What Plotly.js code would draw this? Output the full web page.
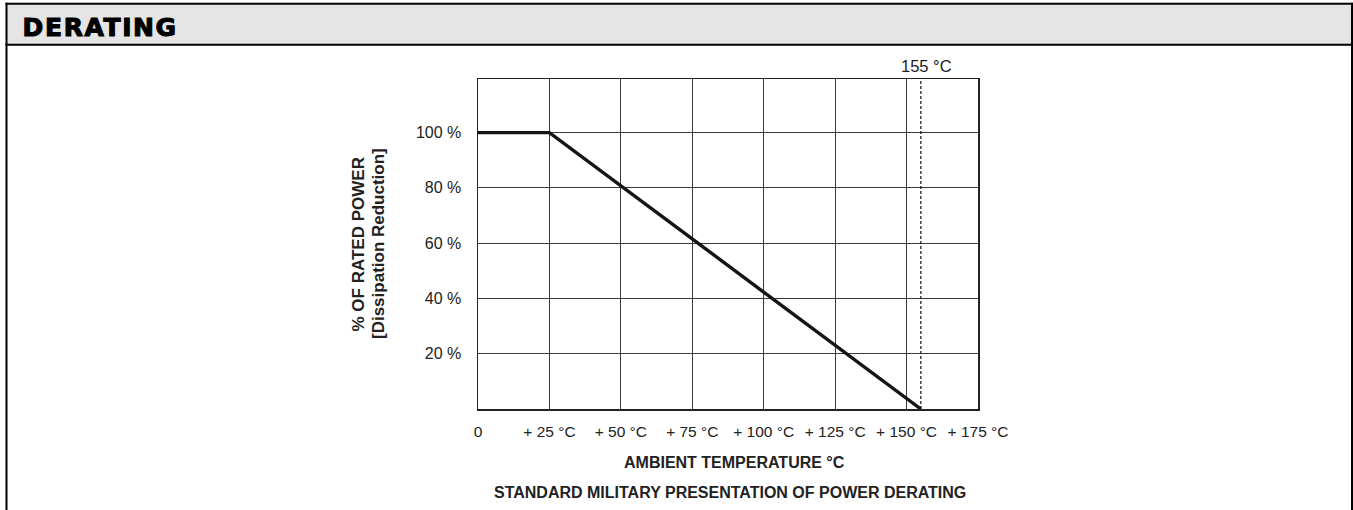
<!DOCTYPE html>
<html>
<head>
<meta charset="utf-8">
<script src="https://cdn.plot.ly/plotly-3.0.1.min.js"></script>
<style>
  html, body { margin: 0; padding: 0; background: #fff; }
  #chart { width: 1353px; height: 510px; }
  g.annotation[data-index="0"] text { letter-spacing: 1.6px; stroke: #000; stroke-width: 1.1px; }
</style>
</head>
<body>
<div id="chart"></div>
<script>
// ---- data ----
const tempC = [0, 25, 155];
const ratedPowerPct = [100, 100, 0];
const xTickVals = [0, 25, 50, 75, 100, 125, 150, 175];
const xTickText = ['0', '+ 25 °C', '+ 50 °C', '+ 75 °C', '+ 100 °C', '+ 125 °C', '+ 150 °C', '+ 175 °C'];
const yTickVals = [20, 40, 60, 80, 100];
const yTickText = ['20 %', '40 %', '60 %', '80 %', '100 %'];
const maxTemp = 155;
const maxTempLabel = '155 °C';
const headerText = 'DERATING';
const xTitle = 'AMBIENT TEMPERATURE °C';
const captionText = 'STANDARD MILITARY PRESENTATION OF POWER DERATING';
const yTitleLine1 = '% OF RATED POWER';
const yTitleLine2 = '[Dissipation Reduction]';

// ---- layout helpers (pixel -> paper) ----
const W = 1353, H = 510;
const M = { l: 478, r: 375, t: 79, b: 101 };
const PW = W - M.l - M.r, PH = H - M.t - M.b;
const px = x => (x - M.l) / PW;
const py = y => (H - M.b - y) / PH;

const FONT = '"Liberation Sans", Arial, Helvetica, sans-serif';

const trace = {
  x: tempC, y: ratedPowerPct,
  type: 'scatter', mode: 'lines',
  line: { color: '#151515', width: 3.4 },
  hoverinfo: 'skip', showlegend: false, cliponaxis: false
};

const layout = {
  width: W, height: H,
  margin: M,
  paper_bgcolor: '#ffffff', plot_bgcolor: '#ffffff',
  showlegend: false,
  font: { family: FONT, color: '#222', size: 16 },
  xaxis: {
    range: [0, 175], tickvals: xTickVals, ticktext: xTickText,
    showgrid: true, gridcolor: '#3a3a3a', gridwidth: 1,
    zeroline: false, showline: true, linecolor: '#222', linewidth: 1.5, mirror: true,
    ticks: '', ticklabelstandoff: 8,
    tickfont: { family: FONT, size: 15.5, color: '#222' },
    fixedrange: true
  },
  yaxis: {
    range: [0, 119.4], tickvals: yTickVals, ticktext: yTickText,
    showgrid: true, gridcolor: '#3a3a3a', gridwidth: 1,
    zeroline: false, showline: true, linecolor: '#222', linewidth: 1.5, mirror: true,
    ticks: '', ticklabelstandoff: 12,
    tickfont: { family: FONT, size: 16, color: '#222' },
    fixedrange: true
  },
  shapes: [
    // header band
    { type: 'rect', xref: 'paper', yref: 'paper', x0: px(7), x1: px(1351), y0: py(4.5), y1: py(44), fillcolor: '#e5e5e5', line: { width: 0 }, layer: 'below' },
    // frame
    { type: 'line', xref: 'paper', yref: 'paper', x0: px(6.5), x1: px(6.5), y0: py(2.7), y1: py(512), line: { color: '#000', width: 2 } },
    { type: 'line', xref: 'paper', yref: 'paper', x0: px(1352), x1: px(1352), y0: py(2.7), y1: py(512), line: { color: '#000', width: 2 } },
    { type: 'line', xref: 'paper', yref: 'paper', x0: px(5.5), x1: px(1353), y0: py(3.7), y1: py(3.7), line: { color: '#000', width: 2 } },
    { type: 'line', xref: 'paper', yref: 'paper', x0: px(5.5), x1: px(1353), y0: py(44.7), y1: py(44.7), line: { color: '#000', width: 2 } },
    // max temperature marker
    { type: 'line', xref: 'x', yref: 'paper', x0: maxTemp, x1: maxTemp, y0: 0, y1: 1, line: { color: '#111', width: 1.2, dash: '3px,2px' } }
  ],
  annotations: [
    { text: headerText, xref: 'paper', yref: 'paper', x: px(27), y: py(27), xanchor: 'left', yanchor: 'middle', showarrow: false,
      font: { family: '"DejaVu Sans", "Liberation Sans", sans-serif', size: 25, weight: 'bold', color: '#000' } },
    { text: maxTempLabel, xref: 'x', yref: 'paper', x: maxTemp, xshift: 6, y: py(66), xanchor: 'center', yanchor: 'middle', showarrow: false,
      font: { family: FONT, size: 16.5, color: '#222' } },
    { text: xTitle, xref: 'paper', yref: 'paper', x: px(734), y: py(462), xanchor: 'center', yanchor: 'middle', showarrow: false,
      font: { family: FONT, size: 16, weight: 'bold', color: '#222' } },
    { text: captionText, xref: 'paper', yref: 'paper', x: px(730), y: py(492), xanchor: 'center', yanchor: 'middle', showarrow: false,
      font: { family: FONT, size: 16, weight: 'bold', color: '#222' } },
    { text: yTitleLine1, xref: 'paper', yref: 'paper', x: px(357.5), y: py(245), xanchor: 'center', yanchor: 'middle', textangle: -90, showarrow: false,
      font: { family: FONT, size: 17, weight: 'bold', color: '#222' } },
    { text: yTitleLine2, xref: 'paper', yref: 'paper', x: px(378), y: py(244), xanchor: 'center', yanchor: 'middle', textangle: -90, showarrow: false,
      font: { family: FONT, size: 17, weight: 'bold', color: '#222' } }
  ]
};

Plotly.newPlot('chart', [trace], layout, { staticPlot: true, displayModeBar: false });
</script>
</body>
</html>
